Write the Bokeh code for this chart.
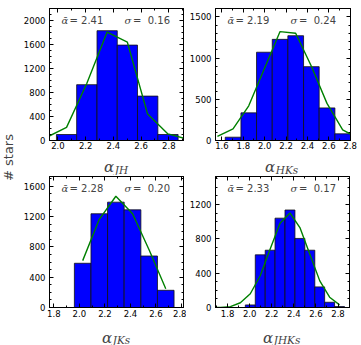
import math
from bokeh.plotting import figure
from bokeh.layouts import row, column
from bokeh.models import Range1d, SingleIntervalTicker, LinearAxis, Label, PrintfTickFormatter
from bokeh.embed import file_html
from bokeh.resources import INLINE

# ---------------- data ----------------
jh_edges = [1.989, 2.135, 2.282, 2.428, 2.574, 2.721, 2.867]
jh_counts = [100, 930, 1830, 1590, 740, 100]
jh_curve_x = [1.916, 2.062, 2.208, 2.355, 2.501, 2.647, 2.794, 2.940]
jh_curve_y = [50, 219, 950, 1808, 1638, 440, 110, 20]
jh_mean, jh_sigma = "2.41", "0.16"

hks_edges = [1.631, 1.778, 1.924, 2.071, 2.217, 2.364, 2.510, 2.657, 2.803]
hks_counts = [40, 335, 1070, 1226, 1270, 895, 395, 81]
hks_curve_x = [1.558, 1.704, 1.851, 1.997, 2.144, 2.290, 2.437, 2.583, 2.730, 2.877]
hks_curve_y = [50, 140, 420, 870, 1320, 1300, 900, 450, 130, 25]
hks_mean, hks_sigma = "2.19", "0.24"

jks_edges = [1.961, 2.091, 2.221, 2.351, 2.482, 2.612, 2.742]
jks_counts = [584, 1238, 1391, 1290, 680, 227]
jks_curve_x = [2.026, 2.156, 2.286, 2.417, 2.547, 2.677]
jks_curve_y = [619, 1164, 1469, 1238, 760, 248]
jks_mean, jks_sigma = "2.28", "0.20"

jhks_edges = [1.961, 2.051, 2.141, 2.230, 2.320, 2.410, 2.500, 2.590, 2.679, 2.769, 2.859]
jhks_counts = [30, 613, 667, 1040, 1135, 804, 667, 240, 61, 11]
jhks_curve_x = [1.647, 1.737, 1.826, 1.916, 2.006, 2.096, 2.186, 2.275, 2.365,
                2.455, 2.545, 2.635, 2.724, 2.814]
jhks_curve_y = [0, 0, 10, 55, 160, 370, 680, 980, 1100, 930, 620, 310, 120, 30]
jhks_mean, jhks_sigma = "2.33", "0.17"

y_label = "# stars"
# --------------------------------------

TICK_FONT = "8.5px"
NB = "\u00a0"


def style_axis(ax, show):
    ax.major_tick_in = 4
    ax.major_tick_out = 0
    ax.minor_tick_in = 2
    ax.minor_tick_out = 0
    ax.axis_line_color = "black"
    ax.major_tick_line_color = "black"
    ax.minor_tick_line_color = "black"
    if show:
        ax.major_label_text_font_size = TICK_FONT
        ax.major_label_text_font = "DejaVu Sans"
        ax.major_label_text_color = "black"
    else:
        ax.major_label_text_font_size = "0px"
        ax.major_label_text_color = None
        ax.major_label_standoff = 0


def make_panel(edges, counts, cx, cy, xr, yr, yint, yminor, mean, sigma,
               width, height, bl, br, bt, bb, xstand):
    p = figure(width=width, height=height, x_range=Range1d(*xr), y_range=Range1d(*yr),
               output_backend="svg", toolbar_location=None,
               x_axis_type=None, y_axis_type=None,
               min_border_left=bl, min_border_right=br,
               min_border_top=bt, min_border_bottom=bb)
    p.outline_line_color = "black"
    p.background_fill_color = "white"
    p.border_fill_color = "white"

    xt = SingleIntervalTicker(interval=0.2, num_minor_ticks=2)
    yt = SingleIntervalTicker(interval=yint, num_minor_ticks=yminor)
    xb = LinearAxis(ticker=xt, formatter=PrintfTickFormatter(format="%.1f"))
    style_axis(xb, True)
    xb.major_label_standoff = xstand
    p.add_layout(xb, "below")
    xa = LinearAxis(ticker=xt)
    style_axis(xa, False)
    p.add_layout(xa, "above")
    yl = LinearAxis(ticker=yt)
    style_axis(yl, True)
    yl.major_label_standoff = 4
    p.add_layout(yl, "left")
    yr_ax = LinearAxis(ticker=yt)
    style_axis(yr_ax, False)
    p.add_layout(yr_ax, "right")

    p.quad(left=edges[:-1], right=edges[1:], bottom=0, top=counts,
           fill_color="#0000ff", line_color="#111111", line_width=0.8)
    p.line(cx, cy, line_color="#008000", line_width=1.4)

    fh = height - bt - bb
    ty = fh - 12
    p.add_layout(Label(x=12, y=ty, x_units="screen", y_units="screen", text="\u1fb1",
                       text_font="DejaVu Serif", text_font_style="italic",
                       text_font_size="10px", text_baseline="middle", text_align="left"))
    p.add_layout(Label(x=20, y=ty, x_units="screen", y_units="screen", text="=" + NB + mean,
                       text_font="DejaVu Sans", text_font_size="10px",
                       text_baseline="middle", text_align="left"))
    sx = 75
    p.add_layout(Label(x=sx, y=ty, x_units="screen", y_units="screen", text="\u03c3",
                       text_font="DejaVu Serif", text_font_style="italic",
                       text_font_size="10px", text_baseline="middle", text_align="left"))
    p.add_layout(Label(x=sx + 8.5, y=ty, x_units="screen", y_units="screen",
                       text="=" + NB + NB + sigma,
                       text_font="DejaVu Sans", text_font_size="10px",
                       text_baseline="middle", text_align="left"))
    return p


def label_row(items, width, height, a_base, s_base):
    f = figure(width=width, height=height, x_range=Range1d(0, 1), y_range=Range1d(0, 1),
               x_axis_type=None, y_axis_type=None, output_backend="svg",
               toolbar_location=None, min_border=0)
    f.outline_line_color = None
    a_w = 9.5
    for center, sub, sub_w in items:
        junction = center - (sub_w - a_w) / 2
        f.add_layout(Label(x=junction, y=a_base, x_units="screen", y_units="screen",
                           text="\u03b1", text_font="DejaVu Serif", text_font_style="italic",
                           text_font_size="15px", text_baseline="alphabetic",
                           text_align="right"))
        f.add_layout(Label(x=junction + 0.5, y=s_base, x_units="screen", y_units="screen",
                           text=sub, text_font="DejaVu Serif", text_font_style="italic",
                           text_font_size="10.5px", text_baseline="alphabetic",
                           text_align="left"))
    return f


W1, W2 = 170, 175
p1 = make_panel(jh_edges, jh_counts, jh_curve_x, jh_curve_y, (1.939, 2.906), (0, 2200),
                400, 4, jh_mean, jh_sigma, W1, 152, 33, 3, 8, 12, 1)
p2 = make_panel(hks_edges, hks_counts, hks_curve_x, hks_curve_y, (1.540, 2.803), (0, 1600),
                500, 5, hks_mean, hks_sigma, W2, 152, 26, 11, 8, 12, 1)
p3 = make_panel(jks_edges, jks_counts, jks_curve_x, jks_curve_y, (1.766, 2.816), (0, 1730),
                400, 4, jks_mean, jks_sigma, W1, 145, 33, 3, 1, 13, 2)
p4 = make_panel(jhks_edges, jhks_counts, jhks_curve_x, jhks_curve_y, (1.691, 2.904), (0, 1525),
                400, 4, jhks_mean, jhks_sigma, W2, 145, 28, 12, 1, 13, 2)

lab1 = label_row([(33 + 134 / 2, "JH", 14), (W1 + 26 + 138 / 2, "HKs", 22)], W1 + W2, 23, 8.5, 5.5)
lab2 = label_row([(33 + 134 / 2, "JKs", 18), (W1 + 28 + 135 / 2, "JHKs", 27)], W1 + W2, 25, 8, 5.5)

lf = figure(width=16, height=345, x_range=Range1d(0, 1), y_range=Range1d(0, 1),
            x_axis_type=None, y_axis_type=None, output_backend="svg",
            toolbar_location=None, min_border=0)
lf.outline_line_color = None
lf.add_layout(Label(x=8, y=188, x_units="screen", y_units="screen", text=y_label,
                    angle=math.pi / 2, text_align="center", text_baseline="middle",
                    text_font="DejaVu Sans", text_font_size="13px"))

layout = row(lf, column(row(p1, p2), lab1, row(p3, p4), lab2))

open("out.html", "w").write(file_html(layout, INLINE))
